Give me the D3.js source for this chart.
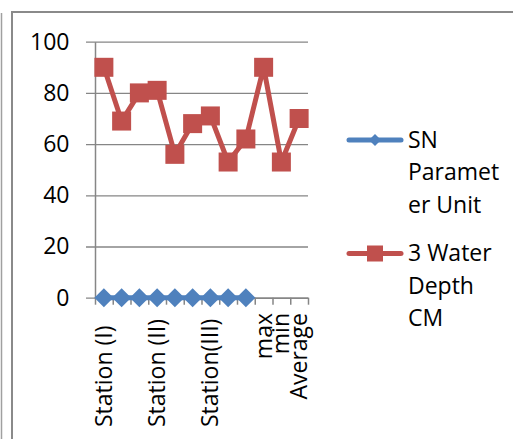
<!DOCTYPE html>
<html>
<head>
<meta charset="utf-8">
<script src="https://cdn.jsdelivr.net/npm/d3@7/dist/d3.min.js"></script>
<style>
  html, body { margin: 0; padding: 0; background: #fff; }
  svg { display: block; }
  text { font-family: "Open Sans", sans-serif; fill: #000; }
</style>
</head>
<body>
<svg id="chart" width="513" height="439"></svg>
<script>
// Categories along the x axis (only some carry a printed label)
const categories = ["c1","c2","c3","c4","c5","c6","c7","c8","c9","max","min","Average"];
const categoryLabels = ["Station (I)","","","Station (II)","","","Station(III)","","","max","min","Average"];

// Series values
const snParameterUnit = [0,0,0,0,0,0,0,0,0];
const waterDepthCM = [90,69,80,81,56,68,71,53,62,90,53,70];

const seriesNames = [["SN","Paramet","er Unit"],["3 Water","Depth","CM"]];
const yTicks = [0,20,40,60,80,100];

const blue = "#4F81BD", red = "#C0504D", gray = "#868686";
const fontSize = 23;

const svg = d3.select("#chart");

// Frame of the chart area
svg.append("line").attr("x1",1.5).attr("x2",1.5).attr("y1",13).attr("y2",439)
  .attr("stroke","#a0a0a0").attr("stroke-width",1.5);
svg.append("path").attr("d","M12,439V12H513").attr("fill","none")
  .attr("stroke","#8a8a8a").attr("stroke-width",2);

const plotLeft = 95, plotRight = 308, plotTop = 41.7, plotBottom = 297.7;

const x = d3.scaleBand().domain(categories).range([plotLeft, plotRight]).padding(0);
const xEdge = d3.scaleLinear().domain([0, categories.length]).range([plotLeft, plotRight]);
const y = d3.scaleLinear().domain([0, 100]).range([plotBottom, plotTop]);

// Gridlines with labels
const grid = svg.append("g").attr("transform", `translate(${plotRight},0)`)
  .call(d3.axisLeft(y).tickValues(yTicks).tickSize(plotRight - 86).tickPadding(16.5).tickFormat(d3.format("d")));
grid.select(".domain").remove();
grid.selectAll(".tick line").attr("stroke", gray).attr("stroke-width", 1.3);
grid.selectAll(".tick text").attr("font-size", fontSize).attr("font-family", "Open Sans, sans-serif").attr("fill","#000");

// Value axis line
svg.append("g").attr("transform", `translate(${plotLeft},0)`)
  .call(d3.axisLeft(y).tickValues([]).tickSizeOuter(0))
  .select(".domain").attr("stroke", gray).attr("stroke-width", 1.5);

// Category axis with boundary tick marks
const xa = svg.append("g").attr("transform", `translate(0,${plotBottom})`)
  .call(d3.axisBottom(xEdge).tickValues(d3.range(0, categories.length + 1)).tickSize(7).tickSizeOuter(0).tickFormat(""));
xa.select(".domain").attr("stroke", gray).attr("stroke-width", 1.5);
xa.selectAll(".tick line").attr("stroke", gray).attr("stroke-width", 1.5);

// Rotated category labels
const cx = d => x(d) + x.bandwidth() / 2;
svg.append("g").selectAll("text")
  .data(categories.map((c, i) => ({ c, label: categoryLabels[i] })).filter(d => d.label))
  .join("text")
  .attr("font-size", fontSize)
  .attr("text-anchor", d => d.label.startsWith("Station") ? "start" : "end")
  .attr("dy", "0.35em")
  .attr("transform", d => `translate(${cx(d.c)},${d.label.startsWith("Station") ? 427 : 313}) rotate(-90)`)
  .text(d => d.label);

const line = d3.line().x((d, i) => cx(categories[i])).y(d => y(d));

// SN Parameter Unit series
svg.append("path").datum(snParameterUnit).attr("d", line)
  .attr("fill","none").attr("stroke", blue).attr("stroke-width", 5).attr("stroke-linejoin","round");
svg.append("g").selectAll("path").data(snParameterUnit).join("path")
  .attr("d", (d, i) => { const px = cx(categories[i]), py = y(d), r = 9.5;
    return `M${px},${py - r}L${px + r},${py}L${px},${py + r}L${px - r},${py}Z`; })
  .attr("fill", blue);

// Water depth series
svg.append("path").datum(waterDepthCM).attr("d", line)
  .attr("fill","none").attr("stroke", red).attr("stroke-width", 5).attr("stroke-linejoin","round");
svg.append("g").selectAll("rect").data(waterDepthCM).join("rect")
  .attr("x", (d, i) => cx(categories[i]) - 9.5).attr("y", d => y(d) - 9.5)
  .attr("width", 19).attr("height", 19).attr("fill", red);

// Legend
const legend = svg.append("g");
const legendRows = [{ y: 140, color: blue, shape: "diamond", lines: seriesNames[0] },
                    { y: 253.5, color: red, shape: "square", lines: seriesNames[1] }];
legendRows.forEach(r => {
  legend.append("line").attr("x1", 349).attr("x2", 401).attr("y1", r.y).attr("y2", r.y)
    .attr("stroke", r.color).attr("stroke-width", 5).attr("stroke-linecap", "round");
  if (r.shape === "diamond") {
    const s = 6;
    legend.append("path").attr("d", `M375,${r.y - s}L${375 + s},${r.y}L375,${r.y + s}L${375 - s},${r.y}Z`).attr("fill", r.color);
  } else {
    legend.append("rect").attr("x", 367).attr("y", r.y - 8).attr("width", 16).attr("height", 16).attr("fill", r.color);
  }
  legend.append("text").attr("x", 408).attr("y", r.y).attr("font-size", fontSize)
    .selectAll("tspan").data(r.lines).join("tspan")
    .attr("x", 408).attr("y", (d, i) => r.y + 7.5 + i * 32.5).text(d => d);
});
</script>
</body>
</html>
